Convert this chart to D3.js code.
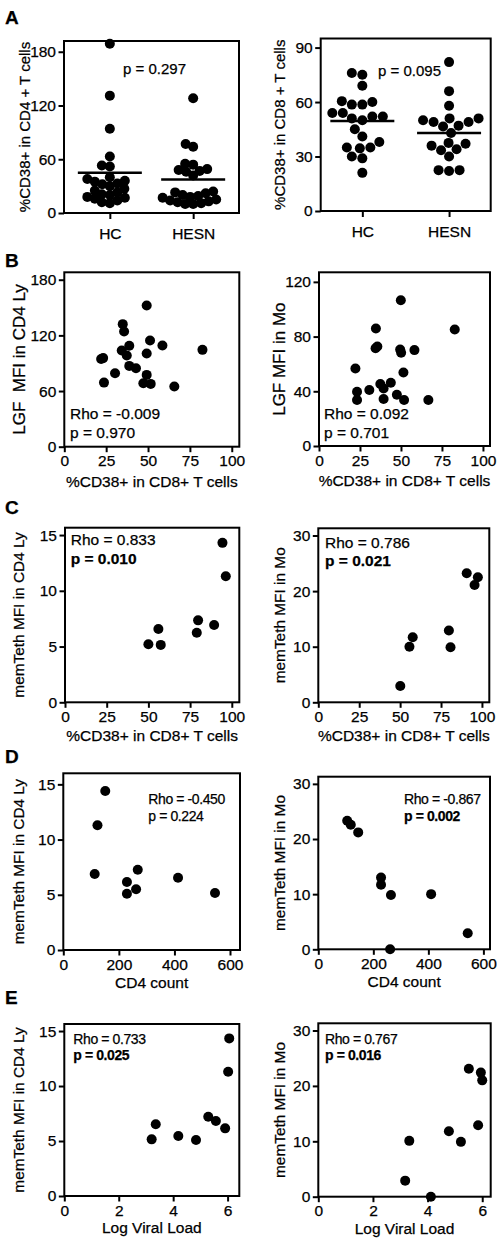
<!DOCTYPE html>
<html><head><meta charset="utf-8">
<script src="https://cdn.jsdelivr.net/npm/d3@7"></script>
<style>
body{margin:0;background:#fff}
svg text{font-family:"Liberation Sans",Arial,Helvetica,sans-serif;fill:#000;white-space:pre;stroke:#000;stroke-width:0.25px}
</style></head><body>
<svg id="chart" width="498" height="1241"></svg>
<script>
// ---------------- data ----------------
const groupCategories = ["HC", "HESN"];
const cd4HC   = [189, 131, 94, 63, 53, 52, 40, 38, 36, 35, 33, 32, 30, 27, 25, 23, 21, 20, 18, 17, 16, 14, 12, 11];
const cd4HESN = [128, 77, 74, 55, 54, 49, 48, 47, 46, 42, 24, 23, 22, 20, 19, 18, 17, 15, 14, 13, 12, 11, 10, 10];
const cd4Means = [45, 37.5];
const cd8HC   = [76, 75, 69, 60.5, 60, 58.6, 58.6, 54, 54, 52, 52, 51, 50, 45, 41, 38, 35, 35, 34.5, 30, 29, 21];
const cd8HESN = [82, 66, 58, 51, 51, 50, 49, 49, 47, 46.5, 43, 37.5, 37, 36, 34, 33.5, 30, 22.5, 22, 22.5];
const cd8Means = [49.6, 42.9];

const bLyX = [49.2, 34.9, 35.7, 51.2, 38.8, 58.6, 34.3, 37.3, 49.2, 82.5, 22.0, 23.2, 38.8, 42.8, 30.3, 49.2, 23.7, 47.2, 51.6, 65.7];
const bLyY = [152.3, 132.1, 124.2, 114.5, 108.8, 109.1, 103.7, 98.3, 100.4, 104.4, 94.5, 95.5, 87.1, 84.6, 79.2, 77.4, 69.1, 68.4, 67.7, 64.8];
const bMoX = [49.9, 34.7, 82.8, 34.5, 35.6, 49.5, 58.2, 50.1, 22.2, 51.5, 37.4, 43.8, 39.4, 23.2, 30.7, 47.5, 23.2, 39.4, 51.9, 66.7];
const bMoY = [106.6, 85.9, 85.2, 71.5, 72.8, 70.6, 70.1, 68.2, 56.7, 53.8, 45.3, 46.3, 42.1, 39.7, 40.9, 37.5, 33.6, 34.3, 33.6, 33.6];

const cLyX = [94.4, 96.4, 56, 50, 57.4, 79.8, 79, 89.4];
const cLyY = [14.3, 11.3, 6.57, 5.2, 5.15, 7.35, 6.24, 6.93];
const cMoX = [50.1, 55.7, 57.7, 79.8, 80.8, 90.7, 97.5, 95.5];
const cMoY = [2.94, 10.0, 11.7, 12.9, 9.9, 23.2, 22.5, 21.1];

const dLyX = [151, 123, 113, 229, 229, 262, 268, 413, 546];
const dLyY = [14.4, 11.3, 6.88, 6.16, 5.1, 5.5, 7.27, 6.55, 5.16];
const dMoX = [105, 118, 145, 228, 228, 264, 261, 410, 543];
const dMoY = [23.3, 22.6, 21.2, 13.0, 11.7, 9.86, 0, 10.0, 2.9];

const eLyX = [3.21, 3.36, 4.19, 4.84, 5.29, 5.57, 5.91, 6.06, 6.02];
const eLyY = [5.15, 6.52, 5.45, 5.09, 7.21, 6.82, 6.15, 14.33, 11.3];
const eMoX = [3.18, 3.33, 4.12, 4.78, 5.22, 5.51, 5.85, 5.95, 6.0];
const eMoY = [2.9, 10.08, 0, 11.8, 9.9, 23.1, 12.9, 22.4, 21.0];

const ticksCD4pct = [0, 60, 120, 180];
const ticksCD8pct = [0, 30, 60, 90];
const ticksPct = [0, 25, 50, 75, 100];
const ticksLGFLy = [0, 60, 120, 180];
const ticksLGFMo = [0, 40, 80, 120];
const ticksMem15 = [0, 5, 10, 15];
const ticksMem30 = [0, 10, 20, 30];
const ticksCD4count = [0, 200, 400, 600];
const ticksVL = [0, 2, 4, 6];

const panelLetters = ["A", "B", "C", "D", "E"];

// ---------------- layout ----------------
const svg = d3.select("#chart");
const R = 5;
const letterPos = [[5, 24], [5, 267], [5, 514], [5, 763], [5, 1004]];
panelLetters.forEach((t, i) => {
  svg.append("text").attr("x", letterPos[i][0]).attr("y", letterPos[i][1])
    .attr("font-size", 19).attr("font-weight", "bold").text(t);
});

const panels = [
  {type: "group", frame: [64, 41, 239, 213], yDom: [0, 192], yTicks: ticksCD4pct, groups: [cd4HC, cd4HESN], means: cd4Means, pad: 0.55, minD: 7.6,
   yTitle: "%CD38+ in CD4 + T cells", yTitleX: 30, yTitleSize: 15,
   notes: [{t: "p = 0.297", x: 123, y: 74, s: 15}]},
  {type: "group", frame: [320.7, 38.5, 490.7, 211], yDom: [0, 95], yTicks: ticksCD8pct, groups: [cd8HC, cd8HESN], means: cd8Means, pad: 0.48, minD: 10.2,
   yTitle: "%CD38+ in CD8 + T cells", yTitleX: 285, yTitleSize: 15,
   notes: [{t: "p = 0.095", x: 378, y: 76, s: 15}]},
  {frame: [64.3, 272.3, 239.3, 446.7], xDom: [0, 104.5], yDom: [0, 188], xTicks: ticksPct, yTicks: ticksLGFLy, xs: bLyX, ys: bLyY,
   yTitle: "LGF  MFI in CD4 Ly", yTitleX: 25, yTitleSize: 17, xTitle: "%CD38+ in CD8+ T cells", xTitleDy: 40,
   notes: [{t: "Rho = -0.009", x: 70, y: 419, s: 15.5}, {t: "p = 0.970", x: 70, y: 438, s: 15.5}]},
  {frame: [319, 272.3, 490, 446], xDom: [0, 104.3], yDom: [0, 127], xTicks: ticksPct, yTicks: ticksLGFMo, xs: bMoX, ys: bMoY,
   yTitle: "LGF MFI in Mo", yTitleX: 285, yTitleSize: 17, xTitle: "%CD38+ in CD8+ T cells", xTitleDy: 40,
   notes: [{t: "Rho = 0.092", x: 324, y: 419, s: 15.5}, {t: "p = 0.701", x: 324, y: 438, s: 15.5}]},
  {frame: [65, 527.7, 239.3, 702.3], xDom: [0, 104.5], yDom: [0, 15.66], xTicks: ticksPct, yTicks: ticksMem15, xs: cLyX, ys: cLyY,
   yTitle: "memTeth MFI in CD4 Ly", yTitleX: 24, yTitleSize: 15.4, xTitle: "%CD38+ in CD8+ T cells", xTitleDy: 39,
   notes: [{t: "Rho = 0.833", x: 70.7, y: 545, s: 15.5}, {t: "p = 0.010", x: 70.7, y: 563.5, s: 15.5, b: true}]},
  {frame: [318.3, 528.3, 489.3, 702.3], xDom: [0, 104.5], yDom: [0, 31.3], xTicks: ticksPct, yTicks: ticksMem30, xs: cMoX, ys: cMoY,
   yTitle: "memTeth MFI in Mo", yTitleX: 285, yTitleSize: 15.4, xTitle: "%CD38+ in CD8+ T cells", xTitleDy: 39,
   notes: [{t: "Rho = 0.786", x: 325, y: 547.5, s: 15.5}, {t: "p = 0.021", x: 325, y: 566, s: 15.5, b: true}]},
  {frame: [63.3, 773.3, 240, 950], xDom: [0, 636], yDom: [0, 16], xTicks: ticksCD4count, yTicks: ticksMem15, xs: dLyX, ys: dLyY,
   yTitle: "memTeth MFI in CD4 Ly", yTitleX: 24, yTitleSize: 15.4, xTitle: "CD4 count", xTitleDy: 38,
   notes: [{t: "Rho = -0.450", x: 148.3, y: 804, s: 14, ls: -0.4}, {t: "p = 0.224", x: 148.3, y: 820.7, s: 14, ls: -0.4}]},
  {frame: [318.3, 776.7, 490, 949.3], xDom: [0, 624], yDom: [0, 31.3], xTicks: ticksCD4count, yTicks: ticksMem30, xs: dMoX, ys: dMoY,
   yTitle: "memTeth MFI in Mo", yTitleX: 285, yTitleSize: 15.4, xTitle: "CD4 count", xTitleDy: 38,
   notes: [{t: "Rho = -0.867", x: 404, y: 804, s: 14, ls: -0.4}, {t: "p = 0.002", x: 404, y: 820.7, s: 14, ls: -0.4, b: true}]},
  {frame: [64.3, 1024, 239.3, 1196], xDom: [0, 6.43], yDom: [0, 15.64], xTicks: ticksVL, yTicks: ticksMem15, xs: eLyX, ys: eLyY,
   yTitle: "memTeth MFI in CD4 Ly", yTitleX: 24, yTitleSize: 15.4, xTitle: "Log Viral Load", xTitleDy: 37,
   notes: [{t: "Rho = 0.733", x: 73.3, y: 1043.5, s: 14, ls: -0.4}, {t: "p = 0.025", x: 73.3, y: 1060, s: 14, ls: -0.4, b: true}]},
  {frame: [318.3, 1023.3, 490.7, 1196.7], xDom: [0, 6.31], yDom: [0, 31.3], xTicks: ticksVL, yTicks: ticksMem30, xs: eMoX, ys: eMoY,
   yTitle: "memTeth MFI in Mo", yTitleX: 285, yTitleSize: 15.4, xTitle: "Log Viral Load", xTitleDy: 37,
   notes: [{t: "Rho = 0.767", x: 325, y: 1044.3, s: 14, ls: -0.4}, {t: "p = 0.016", x: 325, y: 1060, s: 14, ls: -0.4, b: true}]}
];

function styleAxis(g, fs) {
  g.attr("font-size", fs).attr("font-family", null);
  g.select(".domain").remove();
  g.selectAll(".tick line").attr("stroke", "#000").attr("stroke-width", 2);
  g.selectAll(".tick text").attr("font-size", fs).attr("fill", "#000");
}

function swarm(values, cx, yScale, minD) {
  const placed = [];
  const out = new Array(values.length);
  const order = values.map((v, i) => ({v, i})).sort((a, b) => a.v - b.v);
  for (const {v, i} of order) {
    const y = yScale(v);
    let x = cx;
    for (let k = 0; k < 400; k++) {
      const off = (k % 2 === 0 ? 1 : -1) * Math.ceil(k / 2) * 0.5;
      const cxx = cx + off;
      if (placed.every(p => (p.x - cxx) ** 2 + (p.y - y) ** 2 >= minD * minD)) { x = cxx; break; }
    }
    placed.push({x, y});
    out[i] = {x, y};
  }
  return out;
}

const fmt = d3.format("d");

panels.forEach(p => {
  const [x0, y0, x1, y1] = p.frame;
  const g = svg.append("g");
  const y = d3.scaleLinear().domain(p.yDom).range([y1, y0]);

  const ya = g.append("g").attr("transform", `translate(${x0},0)`)
    .call(d3.axisLeft(y).tickValues(p.yTicks).tickFormat(fmt).tickSize(5.5).tickPadding(2.5).tickSizeOuter(0));
  styleAxis(ya, 15.5);

  if (p.type === "group") {
    const x = d3.scalePoint().domain(groupCategories).range([x0, x1]).padding(p.pad);
    const xa = g.append("g").attr("transform", `translate(0,${y1})`)
      .call(d3.axisBottom(x).tickSize(6).tickPadding(9).tickSizeOuter(0));
    styleAxis(xa, 15.5);
    groupCategories.forEach((c, gi) => {
      const pts = swarm(p.groups[gi], x(c), y, p.minD);
      g.selectAll(null).data(pts).enter().append("circle")
        .attr("cx", d => d.x).attr("cy", d => d.y).attr("r", R).attr("fill", "#000");
      g.append("line").attr("x1", x(c) - 32).attr("x2", x(c) + 32)
        .attr("y1", y(p.means[gi])).attr("y2", y(p.means[gi]))
        .attr("stroke", "#000").attr("stroke-width", 2.5);
    });
  } else {
    const x = d3.scaleLinear().domain(p.xDom).range([x0, x1]);
    const xa = g.append("g").attr("transform", `translate(0,${y1})`)
      .call(d3.axisBottom(x).tickValues(p.xTicks).tickFormat(fmt).tickSize(5.5).tickPadding(3).tickSizeOuter(0));
    styleAxis(xa, 15.5);
    g.selectAll(null).data(p.xs.map((v, i) => [v, p.ys[i]])).enter().append("circle")
      .attr("cx", d => x(d[0])).attr("cy", d => y(d[1])).attr("r", R).attr("fill", "#000");
    g.append("text").attr("x", (x0 + x1) / 2).attr("y", y1 + p.xTitleDy)
      .attr("text-anchor", "middle").attr("font-size", 15.5).text(p.xTitle);
  }

  g.append("rect").attr("x", x0).attr("y", y0).attr("width", x1 - x0).attr("height", y1 - y0)
    .attr("fill", "none").attr("stroke", "#000").attr("stroke-width", 2);

  g.append("text").attr("transform", `translate(${p.yTitleX},${(y0 + y1) / 2}) rotate(-90)`)
    .attr("text-anchor", "middle").attr("font-size", p.yTitleSize).text(p.yTitle);

  p.notes.forEach(n => {
    g.append("text").attr("x", n.x).attr("y", n.y).attr("font-size", n.s)
      .attr("font-weight", n.b ? "bold" : "normal")
      .attr("letter-spacing", n.ls || 0).text(n.t);
  });
});
</script>
</body></html>
